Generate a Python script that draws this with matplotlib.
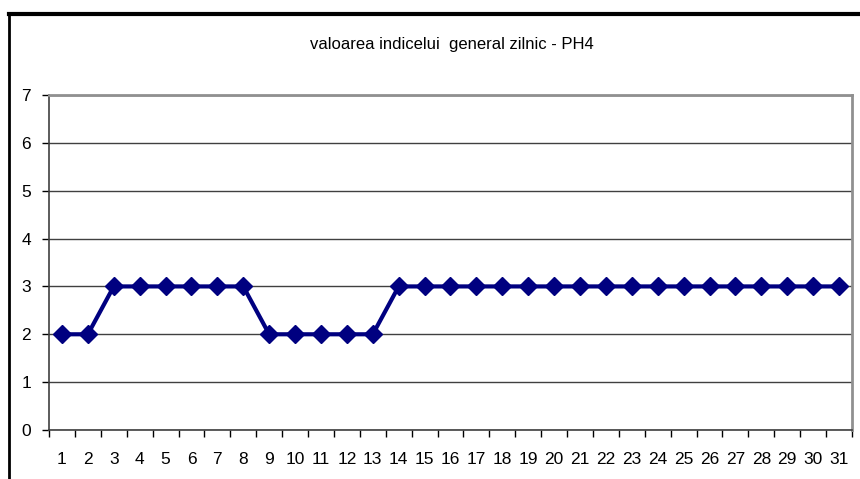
import matplotlib
matplotlib.use("Agg")
import matplotlib.pyplot as plt
from matplotlib.lines import Line2D

plt.rcParams['font.family'] = ['Liberation Sans', 'DejaVu Sans']

days = list(range(1, 32))
values = [2, 2, 3, 3, 3, 3, 3, 3, 2, 2, 2, 2, 2, 3, 3, 3, 3, 3, 3, 3,
          3, 3, 3, 3, 3, 3, 3, 3, 3, 3, 3]
title = "valoarea indicelui  general zilnic - PH4"
yticks = [0, 1, 2, 3, 4, 5, 6, 7]

fig = plt.figure(figsize=(8.6, 4.79), dpi=100)
ax = fig.add_axes([49/860, 1 - 430/479, (852 - 49)/860, (430 - 95)/479])

ax.plot(days, values, color='#000080', lw=3, marker='D', markersize=9,
        markerfacecolor='#000080', markeredgecolor='#000080', zorder=3)

ax.set_xlim(0.5, 31.5)
ax.set_ylim(0, 7)
ax.set_yticks(yticks)
ax.set_xticks(days)
ax.set_xticks([d + 0.5 for d in [0] + days], minor=True)
ax.tick_params(axis='x', which='major', length=0, pad=16, labelsize=12.5)
ax.tick_params(axis='x', which='minor', length=5, width=1, color='black', direction='out')
ax.tick_params(axis='y', length=5, width=1, color='black', pad=8, labelsize=12.5)
ax.grid(axis='y', color='#404040', lw=1)
ax.set_axisbelow(True)

for s in ['top', 'right']:
    ax.spines[s].set_color('#909090')
    ax.spines[s].set_linewidth(2)
for s in ['left', 'bottom']:
    ax.spines[s].set_color('#404040')
    ax.spines[s].set_linewidth(1.2)

fig.text(452/860, 1 - 45/479, title, ha='center', va='center', fontsize=12)

# outer frame (top and left borders)
fig.add_artist(Line2D([9/860, 1], [1 - 14/479, 1 - 14/479], color='black', lw=3,
                      transform=fig.transFigure))
fig.add_artist(Line2D([9/860, 9/860], [0, 1 - 14/479], color='black', lw=2,
                      transform=fig.transFigure))

fig.savefig('out.png', dpi=100)
